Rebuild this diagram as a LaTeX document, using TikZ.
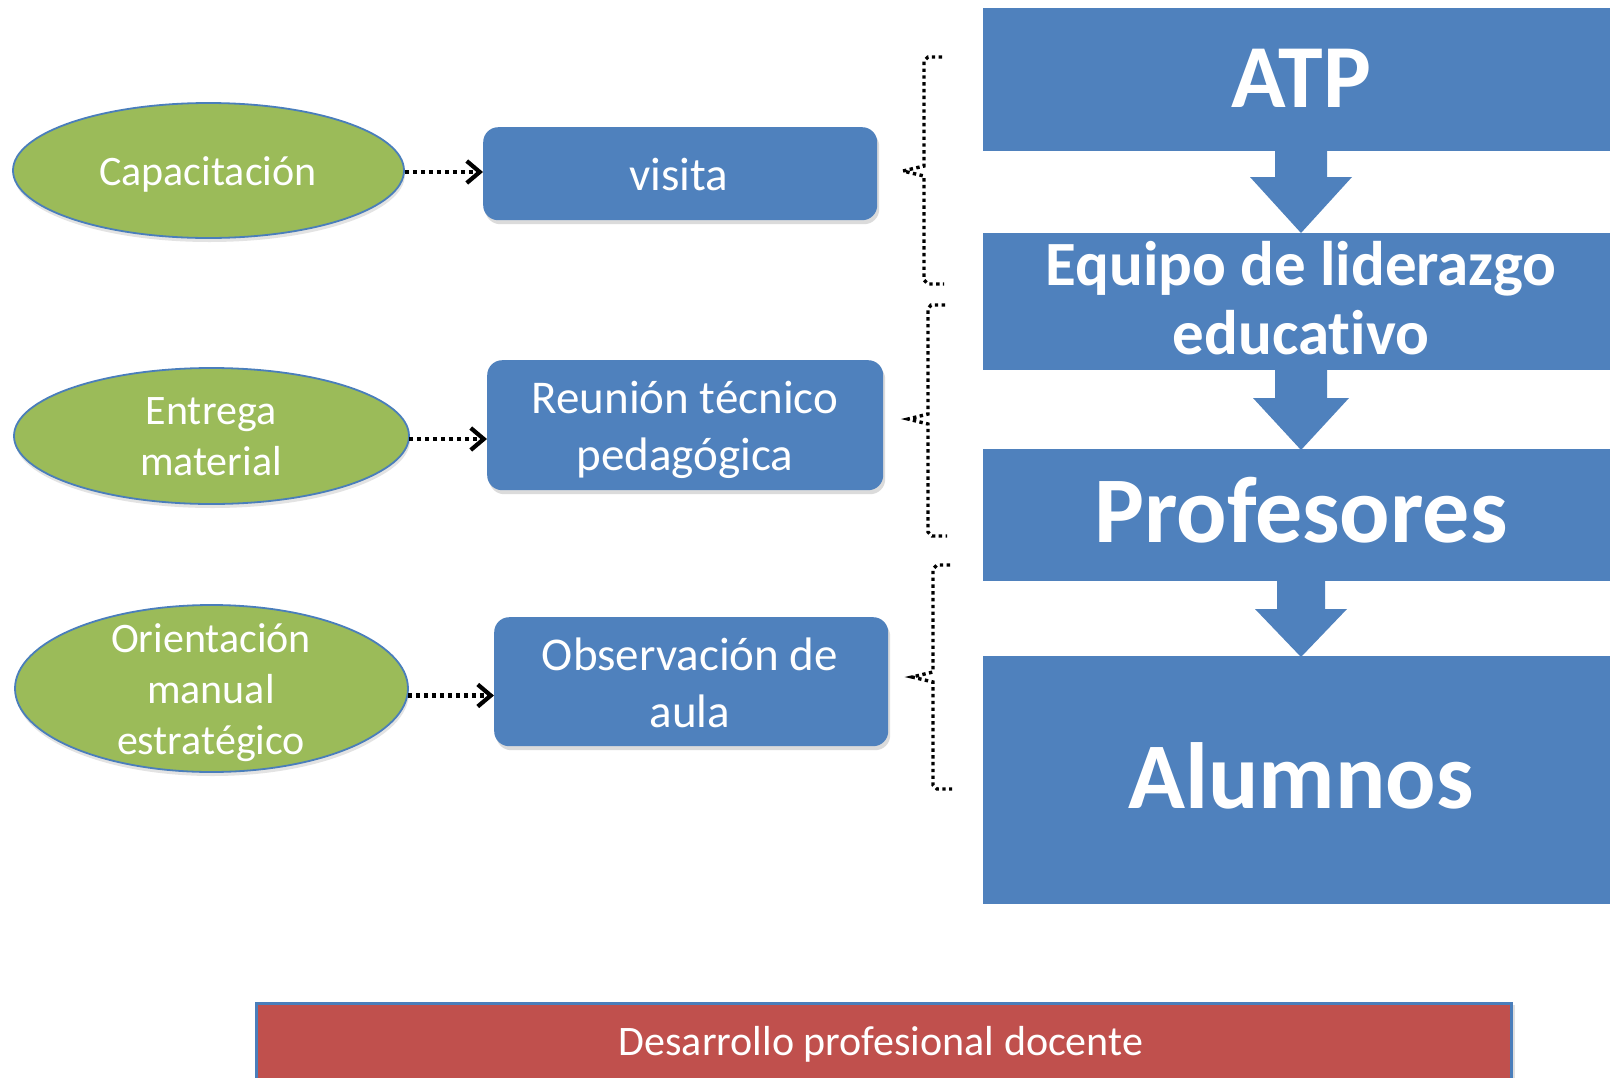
\documentclass[tikz,border=0pt]{standalone}
\usepackage{fontspec}
\setmainfont{Carlito}[Ligatures=NoCommon]
\usetikzlibrary{shapes.geometric,arrows.meta,shadows,calc}
\definecolor{ablue}{HTML}{4F81BD}
\definecolor{agreen}{HTML}{9BBB59}
\definecolor{ared}{HTML}{C0504D}
\definecolor{eblue}{HTML}{4A7EBB}
\begin{document}
\begin{tikzpicture}[x=1pt,y=-1pt,
  oval/.style={ellipse, fill=agreen, draw=eblue, line width=1.8pt, inner sep=0pt,
    drop shadow={opacity=0.22, shadow xshift=1pt, shadow yshift=-4pt}},
  sbox/.style={rectangle, rounded corners=15pt, fill=ablue, inner sep=0pt,
    drop shadow={opacity=0.28, shadow xshift=2pt, shadow yshift=-4pt}},
  bigblock/.style={rectangle, fill=ablue, inner sep=0pt, anchor=north west},
  redbox/.style={rectangle, fill=ared, draw=eblue, line width=2.5pt, inner sep=0pt, anchor=north west,
    drop shadow={opacity=0.25, shadow xshift=4pt, shadow yshift=-2pt}},
  txt/.style={text=white, inner sep=0pt, anchor=base, align=center},
  ovaltxt/.style={txt, font=\fontsize{42}{51}\selectfont},
  boxtxt/.style={txt, font=\fontsize{47}{57}\selectfont},
  hugetxt/.style={txt, font=\fontsize{94}{100}\selectfont\bfseries},
  midtxt/.style={txt, font=\fontsize{63}{69}\selectfont\bfseries},
  dotarrow/.style={line width=4.2pt, dash pattern=on 4pt off 4pt,
    -{Straight Barb[length=13pt,width=22pt]}},
  bracedot/.style={line width=3.4pt, dash pattern=on 3.4pt off 3.4pt},
  blockarrow/.style={fill=ablue}
]
\useasboundingbox (0,0) rectangle (1610,1077);
\fill[white] (0,0) rectangle (1610,1077);

% right column blocks
\node[bigblock, minimum width=650pt, minimum height=143pt] (atp) at (983,8) {};
\node[bigblock, minimum width=650pt, minimum height=137pt] (equipo) at (983,233) {};
\node[bigblock, minimum width=650pt, minimum height=132pt] (prof) at (983,449) {};
\node[bigblock, minimum width=650pt, minimum height=248pt] (alum) at (983,656) {};

% block arrows
\fill[blockarrow] (1275,148) -- (1275,177) -- (1250,177) -- (1301,233) -- (1352,177) -- (1327,177) -- (1327,148) -- cycle;
\fill[blockarrow] (1275,367) -- (1275,398) -- (1253,398) -- (1301,450) -- (1349,398) -- (1327,398) -- (1327,367) -- cycle;
\fill[blockarrow] (1277,578) -- (1277,609) -- (1255,609) -- (1301,657) -- (1347,609) -- (1325,609) -- (1325,578) -- cycle;

\node[hugetxt, font=\fontsize{90}{100}\selectfont\bfseries] (atpT) at (1301,107) {ATP};
\node[midtxt] (equipoT) at (1301,354) {Equipo de liderazgo\\educativo};
\node[hugetxt] (profT) at (1301,542) {Profesores};
\node[hugetxt] (alumT) at (1301,808) {Alumnos};

% ellipses
\node[oval, minimum width=391pt, minimum height=135pt] (cap) at (208.5,170.5) {};
\node[oval, minimum width=395pt, minimum height=136pt] (ent) at (211.5,436) {};
\node[oval, minimum width=393pt, minimum height=167pt] (ori) at (211.5,688.5) {};
\node[ovaltxt] (capT) at (208,185) {Capacitación};
\node[ovaltxt] (entT) at (211,475) {Entrega\\material};
\node[ovaltxt] (oriT) at (211,754) {Orientación\\manual\\estratégico};

% rounded boxes
\node[sbox, minimum width=394pt, minimum height=93pt, anchor=north west] (vis) at (483,127) {};
\node[sbox, minimum width=396pt, minimum height=130pt, anchor=north west] (reu) at (487,360) {};
\node[sbox, minimum width=394pt, minimum height=129pt, anchor=north west] (obs) at (494,617) {};
\node[boxtxt] (visT) at (679,190) {visita};
\node[boxtxt] (reuT) at (685,470) {Reunión técnico\\pedagógica};
\node[boxtxt] (obsT) at (690,727) {Observación de\\aula};

% dotted arrows
\draw[dotarrow] ($(cap.east)+(0,1.5)$) -- ($(cap.east -| vis.west)+(0,1.5)$);
\draw[dotarrow] ($(ent.east)+(-1,3)$) -- ($(ent.east -| reu.west)+(0,3)$);
\draw[dotarrow] ($(ori.east)+(-1,7)$) -- ($(ori.east -| obs.west)+(0,7)$);

% braces
\coordinate (b1t) at (903,171);
\coordinate (b2t) at (908,419);
\coordinate (b3t) at (912,677);
\draw[bracedot] (942,57) -- (928,57) -- (924,61) -- (924,166) -- (b1t) -- (924,176) -- (924,280) -- (928,284) -- (944,284);
\draw[bracedot] (945,305) -- (931,305) -- (928,309) -- (928,414) -- (b2t) -- (928,424) -- (928,532) -- (932,536) -- (947,536);
\draw[bracedot] (950,565) -- (937,565) -- (933,569) -- (933,672) -- (b3t) -- (933,682) -- (933,785) -- (937,789) -- (952,789);

% bottom bar
\node[redbox, minimum width=1255pt, minimum height=110pt] (dpd) at (255,1002) {};
\node[txt, font=\fontsize{42}{51}\selectfont] (dpdT) at (881,1055.5) {Desarrollo profesional docente};
\end{tikzpicture}
\end{document}
